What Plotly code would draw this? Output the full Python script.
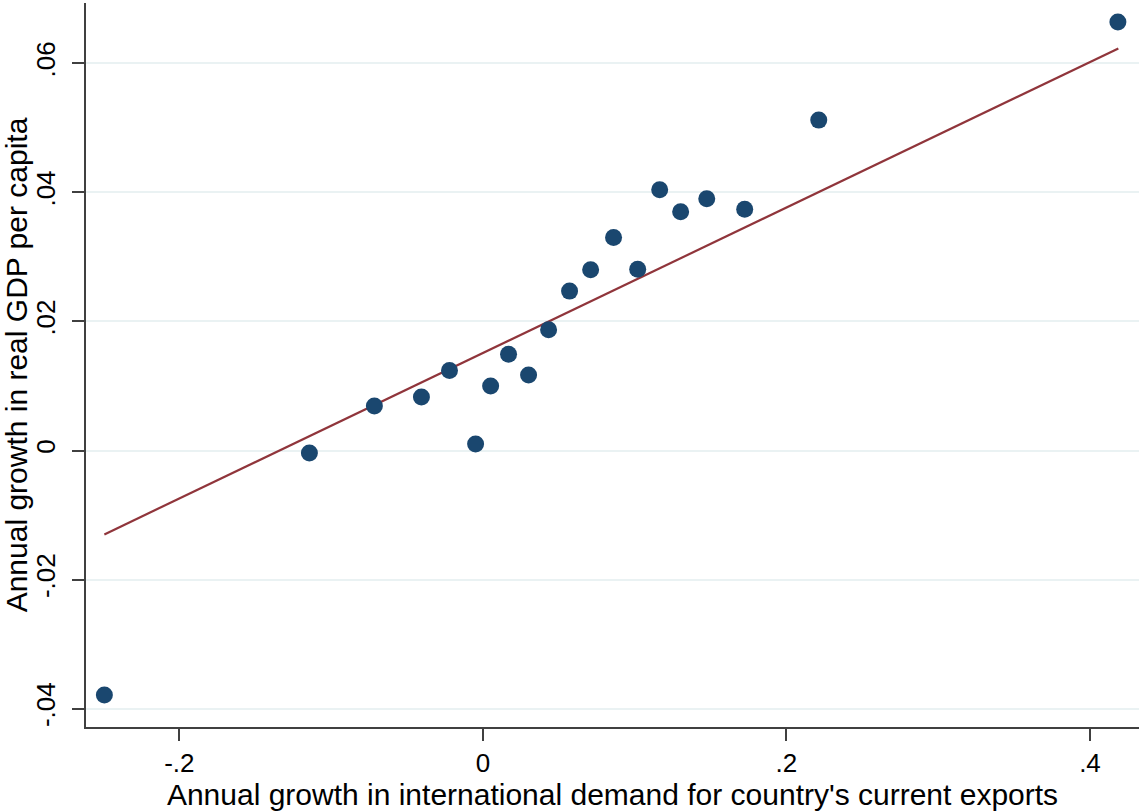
import plotly.graph_objects as go

# Data
demand_growth = [-0.2494, -0.1143, -0.0715, -0.0405, -0.0220, -0.0048, 0.0051, 0.0169,
                 0.0301, 0.0433, 0.0571, 0.0710, 0.0861, 0.1020, 0.1165, 0.1303,
                 0.1475, 0.1725, 0.2213, 0.4184]
gdp_growth = [-0.0379, -0.0004, 0.0069, 0.0083, 0.0124, 0.0010, 0.0100, 0.0149,
              0.0117, 0.0187, 0.0247, 0.0280, 0.0330, 0.0281, 0.0404, 0.0370,
              0.0390, 0.0374, 0.0512, 0.0664]

# Fitted line endpoints as drawn in the chart
fit_x = [-0.2494, 0.4187]
fit_y = [-0.0130, 0.0623]

x_tickvals = [-0.2, 0, 0.2, 0.4]
x_ticktext = ["-.2", "0", ".2", ".4"]
y_tickvals = [-0.04, -0.02, 0, 0.02, 0.04, 0.06]
y_ticktext = ["-.04", "-.02", "0", ".02", ".04", ".06"]

x_title = "Annual growth in international demand for country's current exports"
y_title = "Annual growth in real GDP per capita"

fig = go.Figure()
fig.add_trace(go.Scatter(x=fit_x, y=fit_y, mode="lines",
                         line=dict(color="#90353b", width=2.2), showlegend=False))
fig.add_trace(go.Scatter(x=demand_growth, y=gdp_growth, mode="markers",
                         marker=dict(size=17, color="#1a476f"), showlegend=False))

font = "Liberation Sans, Arial, sans-serif"
fig.update_layout(
    width=1139, height=811,
    margin=dict(l=86, r=0, t=3, b=84),
    paper_bgcolor="white", plot_bgcolor="white",
    font=dict(family=font, size=26, color="black"),
    xaxis=dict(range=[-0.2615, 0.4323], tickvals=x_tickvals, ticktext=x_ticktext,
               showgrid=False, zeroline=False, showline=True, linecolor="#404040",
               linewidth=1.5, ticks="outside", ticklen=12, tickwidth=1.5,
               tickcolor="#404040", tickfont=dict(size=26), automargin=False,
               title=dict(text=x_title, font=dict(size=30), standoff=0)),
    yaxis=dict(range=[-0.04285, 0.06935], tickvals=y_tickvals, ticktext=y_ticktext,
               showgrid=True, gridcolor="#eaf2f3", gridwidth=1.5, zeroline=False,
               showline=True, linecolor="#404040", linewidth=1.5, ticks="outside",
               ticklen=12, tickwidth=1.5, tickcolor="#404040", tickangle=-90,
               tickfont=dict(size=26), automargin=False, ticklabelstandoff=7,
               title=dict(text=y_title, font=dict(size=30), standoff=0)),
)

fig.write_html("out.html", config={"displayModeBar": False},
               post_script="document.body.style.margin='0';document.body.style.overflow='hidden';")
